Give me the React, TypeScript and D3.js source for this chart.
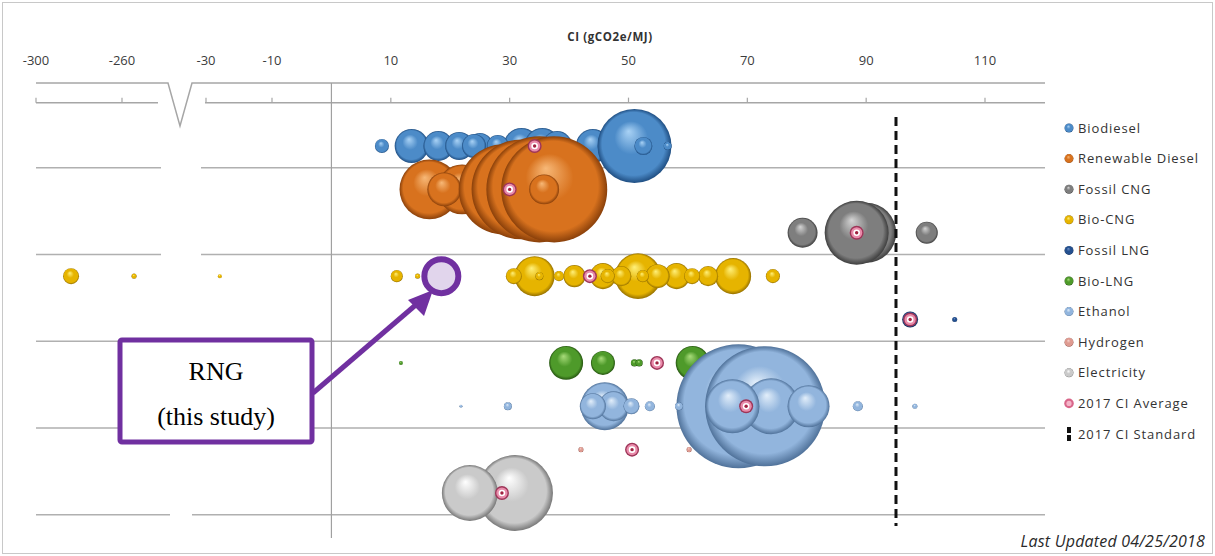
import React from "react";
import * as d3 from "d3";

const W = 1215;
const H = 556;

// ---------- data ----------
const categories = [
  "Biodiesel",
  "Renewable Diesel",
  "Fossil CNG",
  "Bio-CNG",
  "Fossil LNG",
  "Bio-LNG",
  "Ethanol",
  "Hydrogen",
  "Electricity",
];
const extraLegend = ["2017 CI Average", "2017 CI Standard"];
const tickValues = [-300, -260, -30, -10, 10, 30, 50, 70, 90, 110];

// CI values (gCO2e/MJ) and bubble volumes, in drawing order
const biodieselCI = [32, 35.5, 13.5, 44, 18, 38, 48, 21.5, 25, 24, 28, 51, 52.5, 8.5, 56.6];
const biodieselVol = [20.3, 20.3, 18, 18, 14, 14, 14, 12.3, 10.6, 9, 7.6, 85.6, 5.1, 3.1, 1];

const renewableDieselCI = [16.5, 22, 19, 25, 26, 29, 32, 35, 37.5, 35.8];
const renewableDieselVol = [56, 39, 18, 25, 10.6, 126.6, 156, 175.6, 175.6, 14];

const fossilCngCI = [90, 88.4, 79.3, 100.2];
const fossilCngVol = [56.3, 64, 14, 7.6];

const bioCngCI = [51.6, 34.2, 67.6, 45.7, 58.1, 54.9, 40.9, 48.8, 63.4, 30.7, 60.7, -283.7, 46.5, 74.3, 11, 38.3, 52.4, 35, -254.4, 14.5, -25.8];
const bioCngVol = [33, 25, 20.3, 10.6, 10.6, 9, 7.6, 6.3, 6.3, 4, 4, 4, 3.1, 3.1, 2.3, 1.6, 2.3, 1, 0.4, 0.4, 0.25];

const fossilLngCI = [97.4, 104.9];
const fossilLngVol = [4, 0.4];

const bioLngCI = [39.5, 60.8, 45.7, 51, 51.8, 11.7];
const bioLngVol = [18, 18, 9, 0.8, 0.8, 0.25];

const ethanolCI = [68.5, 73, 74, 67.5, 80.3, 46, 47.5, 44, 50.5, 53.6, 58.5, 29.7, 88.6, 98.2, 21.8];
const ethanolVol = [240, 225, 49, 45.6, 27.6, 36, 14, 10.6, 4, 1.6, 1, 1, 1.6, 0.4, 0.14];

const hydrogenCI = [42, 60.2];
const hydrogenVol = [0.4, 0.4];

const electricityCI = [30.9, 23.3];
const electricityVol = [90, 49];

const seriesCI = [biodieselCI, renewableDieselCI, fossilCngCI, bioCngCI, fossilLngCI, bioLngCI, ethanolCI, hydrogenCI, electricityCI];
const seriesVol = [biodieselVol, renewableDieselVol, fossilCngVol, bioCngVol, fossilLngVol, bioLngVol, ethanolVol, hydrogenVol, electricityVol];

const averageCI = [34.2, 30, 88.4, 43.5, 97.4, 54.8, 69.8, 50.6, 28.7];
const ciStandard = 95.02;
const rngStudyCI = 18.5;
const rngStudyRow = 3;

// ---------- styles ----------
const palette = [
  { light: "#A9D2F5", base: "#4C8BC8", dark: "#1F4E82" },
  { light: "#F7B877", base: "#D8721E", dark: "#8A400A" },
  { light: "#D4D4D4", base: "#7E7E7E", dark: "#3E3E3E" },
  { light: "#FFF07A", base: "#E6B400", dark: "#957000" },
  { light: "#6E8FC6", base: "#24508F", dark: "#102A55" },
  { light: "#A8DC7A", base: "#4E9A2A", dark: "#255410" },
  { light: "#E2EEFA", base: "#92B5DD", dark: "#50729A" },
  { light: "#F6D2CC", base: "#DE9A90", dark: "#9A5A52" },
  { light: "#FFFFFF", base: "#CACACA", dark: "#777777" },
];
const purple = "#7030A0";

// ---------- scales ----------
const x = d3
  .scaleLinear()
  .domain([-300, -260, -240, -35, -30, -10, 110])
  .range([36, 122, 165, 190, 206, 272, 985]);
const y = d3.scaleLinear().domain([0, 8]).range([146, 493]);
const r = d3.scaleSqrt().domain([0, 100]).range([0, 40]);

const AvgMarker = ({ cx, cy }: { cx: number; cy: number }) => (
  <g>
    <circle cx={cx} cy={cy} r={7} fill="#9E3558" />
    <circle cx={cx} cy={cy} r={5.6} fill="#E98BAA" />
    <circle cx={cx} cy={cy} r={3.3} fill="#FFFFFF" />
    <circle cx={cx} cy={cy} r={1.7} fill="#A0203F" />
  </g>
);

export default function App() {
  const gridY = [0.5, 2.5, 4.5, 6.5].map((v) => y(v));
  const bottomY = y(8.5);
  const topLineY = y(-1.45);
  const tickLineY = y(-1);
  const x0 = x(0);
  const xs = x(ciStandard);
  const font = "Open Sans, sans-serif";

  return (
    <div style={{ position: "absolute", left: 0, top: 0 }}>
      <svg width={W} height={H} style={{ display: "block", background: "#fff" }}>
        <defs>
          {palette.map((p, i) => (
            <radialGradient key={i} id={`g${i}`} cx="50%" cy="50%" r="50%" fx="42%" fy="30%">
              <stop offset="0%" stopColor={p.light} />
              <stop offset="45%" stopColor={p.base} />
              <stop offset="85%" stopColor={p.base} />
              <stop offset="100%" stopColor={p.dark} />
            </radialGradient>
          ))}
        </defs>
        <rect x={2.5} y={2.5} width={W - 5} height={H - 5} fill="#fff" stroke="#c8c8c8" strokeWidth={1} />

        {/* axis title + tick labels */}
        <text x={610} y={41} textAnchor="middle" fontFamily={font} fontWeight={700} fontSize={11.5} letterSpacing={0.6} fill="#333">
          CI (gCO2e/MJ)
        </text>
        {tickValues.map((t) => (
          <text key={t} x={x(t)} y={65} textAnchor="middle" fontFamily={font} fontSize={13} fill="#3c3c3c">
            {t}
          </text>
        ))}

        {/* top broken axis line */}
        <path
          d={`M36,${topLineY} H168 L180,126 L192,${topLineY} H1045`}
          fill="none"
          stroke="#a6a6a6"
          strokeWidth={1.5}
        />
        <path d={`M36,${tickLineY} H158 M205,${tickLineY} H1045`} fill="none" stroke="#a6a6a6" strokeWidth={1.5} />
        {tickValues.map((t) => (
          <line key={t} x1={x(t)} x2={x(t)} y1={tickLineY - 5} y2={tickLineY} stroke="#a6a6a6" strokeWidth={1.2} />
        ))}

        {/* horizontal grid lines */}
        {gridY.map((gy, i) => (
          <path key={i} d={`M36,${gy} H161 M201,${gy} H1045`} stroke="#b0b0b0" strokeWidth={1.5} />
        ))}
        <path d={`M36,${bottomY} H170 M192,${bottomY} H1045`} stroke="#b0b0b0" strokeWidth={1.5} />

        {/* zero line */}
        <line x1={x0} x2={x0} y1={topLineY} y2={538} stroke="#a0a0a0" strokeWidth={1.2} />

        {/* bubbles */}
        {seriesCI.map((cis, si) => (
          <g key={si}>
            {cis.map((ci, j) => (
              <circle key={j} cx={x(ci)} cy={y(si)} r={Math.max(1.2, r(seriesVol[si][j]))} fill={`url(#g${si})`} />
            ))}
          </g>
        ))}

        {/* averages */}
        {averageCI.map((a, i) => (
          <AvgMarker key={i} cx={x(a)} cy={y(i)} />
        ))}

        {/* CI standard */}
        <line x1={xs} x2={xs} y1={117} y2={526} stroke="#111" strokeWidth={3} strokeDasharray="9,5" />

        {/* legend */}
        {categories.map((c, i) => {
          const ly = 128 + i * 30.6;
          return (
            <g key={c}>
              <circle cx={1069} cy={ly} r={4.5} fill={`url(#g${i})`} />
              <text x={1078} y={ly + 4.5} fontFamily={font} fontSize={13} letterSpacing={0.9} fill="#333">
                {c}
              </text>
            </g>
          );
        })}
        {(() => {
          const ly = 128 + 9 * 30.6;
          return (
            <g>
              <circle cx={1069} cy={ly} r={4.8} fill="#D9668A" />
              <circle cx={1069} cy={ly} r={2.6} fill="#F4B5C8" />
              <text x={1078} y={ly + 4.5} fontFamily={font} fontSize={13} letterSpacing={0.9} fill="#333">
                {extraLegend[0]}
              </text>
            </g>
          );
        })()}
        {(() => {
          const ly = 128 + 10 * 30.6;
          return (
            <g>
              <rect x={1067} y={ly - 7} width={4} height={6} fill="#111" />
              <rect x={1067} y={ly + 1} width={4} height={6} fill="#111" />
              <text x={1078} y={ly + 4.5} fontFamily={font} fontSize={13} letterSpacing={0.9} fill="#333">
                {extraLegend[1]}
              </text>
            </g>
          );
        })()}

        <text x={1205} y={547} textAnchor="end" fontFamily={font} fontStyle="italic" fontSize={16} letterSpacing={0.2} fill="#2a2a2a">
          Last Updated 04/25/2018
        </text>

        {/* annotation */}
        <line x1={313} y1={393} x2={418} y2={303} stroke={purple} strokeWidth={5} />
        <path d="M433,290 L408,300 L424,316 Z" fill={purple} />
        <circle cx={x(rngStudyCI)} cy={y(rngStudyRow)} r={17} fill="#E1D5EC" stroke={purple} strokeWidth={6} />
        <rect x={120} y={340} width={192} height={102} rx={2} fill="#fff" stroke={purple} strokeWidth={5} />
        <text x={216} y={380} textAnchor="middle" fontFamily="Liberation Serif, serif" fontSize={26} fill="#000">
          RNG
        </text>
        <text x={216} y={425} textAnchor="middle" fontFamily="Liberation Serif, serif" fontSize={26} fill="#000">
          (this study)
        </text>
      </svg>
    </div>
  );
}
